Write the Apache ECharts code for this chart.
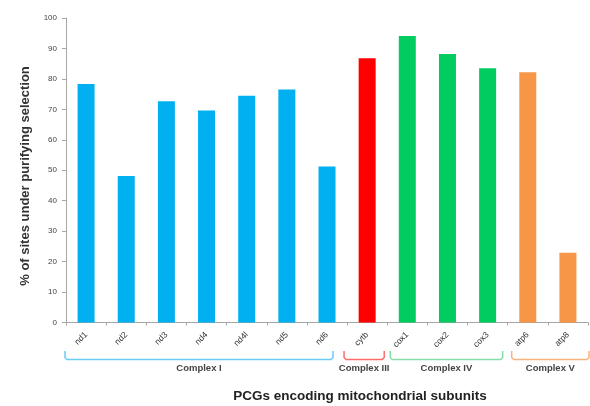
<!DOCTYPE html>
<html>
<head>
<meta charset="utf-8">
<script src="https://cdn.jsdelivr.net/npm/echarts@6/dist/echarts.min.js"></script>
<style>html,body{margin:0;padding:0;background:#fff;}#c{width:590px;height:406px;}</style>
</head>
<body>
<div id="c"></div>
<script>
var categories = ['nd1','nd2','nd3','nd4','nd4l','nd5','nd6','cytb','cox1','cox2','cox3','atp6','atp8'];
var values = [78.3, 48.1, 72.7, 69.6, 74.5, 76.5, 51.2, 86.8, 94.1, 88.2, 83.5, 82.2, 22.9];
var complexOf = ['Complex I','Complex I','Complex I','Complex I','Complex I','Complex I','Complex I','Complex III','Complex IV','Complex IV','Complex IV','Complex V','Complex V'];
var complexNames = ['Complex I','Complex III','Complex IV','Complex V'];
var yAxisTitle = '% of sites under purifying selection';
var xAxisTitle = 'PCGs encoding mitochondrial subunits';

var barColors = {'Complex I':'#00B0F0','Complex III':'#FF0000','Complex IV':'#00CC60','Complex V':'#F79646'};
var bracketColors = {'Complex I':'#6CCBF5','Complex III':'#FF6B6B','Complex IV':'#86DDA8','Complex V':'#F8B27E'};
// bracket extents: offsets (in category units) from first / last member centre
var bracketPad = {'Complex I':[-0.525,0.15],'Complex III':[-0.575,0.425],'Complex IV':[-0.425,0.375],'Complex V':[-0.4,0.525]};

var chart = echarts.init(document.getElementById('c'), null, {renderer:'canvas'});
var font = 'Liberation Sans, Arial, sans-serif';
chart.setOption({
  animation:false,
  grid:{left:66,right:2,top:18,bottom:83.5},
  xAxis:{
    type:'category',
    data:categories,
    axisLine:{lineStyle:{color:'#a6a6a6',width:1}},
    axisTick:{show:true,length:3,lineStyle:{color:'#a6a6a6'}},
    axisLabel:{rotate:45,fontSize:8.5,color:'#333',fontFamily:font,margin:11,interval:0}
  },
  yAxis:{
    type:'value',min:0,max:100,interval:10,
    splitLine:{show:false},
    axisLine:{show:true,lineStyle:{color:'#a6a6a6',width:1}},
    axisTick:{show:true,length:4,inside:false,lineStyle:{color:'#a6a6a6'}},
    axisLabel:{fontSize:8,color:'#444',fontFamily:font,margin:9}
  },
  series:[{
    type:'bar',
    barWidth:17,
    data:values.map(function(v,i){return {value:v,itemStyle:{color:barColors[complexOf[i]]}};})
  }]
});

function px(idx){
  var a = chart.convertToPixel({xAxisIndex:0}, 0);
  var b = chart.convertToPixel({xAxisIndex:0}, 1);
  return a + (b - a) * idx;
}
var graphics = [];
var yTop = 351, yBot = 359.5;
complexNames.forEach(function(name){
  var first = complexOf.indexOf(name), last = complexOf.lastIndexOf(name);
  var x1 = px(first + bracketPad[name][0]);
  var x2 = px(last + bracketPad[name][1]);
  var col = bracketColors[name];
  graphics.push({type:'polyline',shape:{points:[[x1,yTop],[x1,yBot-2],[x1+2,yBot],[x2-2,yBot],[x2,yBot-2],[x2,yTop]]},
    style:{stroke:col,lineWidth:1.5,fill:null}});
  graphics.push({type:'text',x:(x1+x2)/2,y:368,style:{text:name,font:'bold 9.5px '+font,fill:'#444',textAlign:'center',textVerticalAlign:'middle'}});
});
graphics.push({type:'text',x:360,y:396,style:{text:xAxisTitle,font:'bold 13.5px '+font,fill:'#222',textAlign:'center',textVerticalAlign:'middle'}});
graphics.push({type:'text',x:25,y:176,rotation:Math.PI/2,style:{text:yAxisTitle,font:'bold 13px '+font,fill:'#333',textAlign:'center',textVerticalAlign:'middle'}});
chart.setOption({graphic:graphics});
</script>
</body>
</html>
